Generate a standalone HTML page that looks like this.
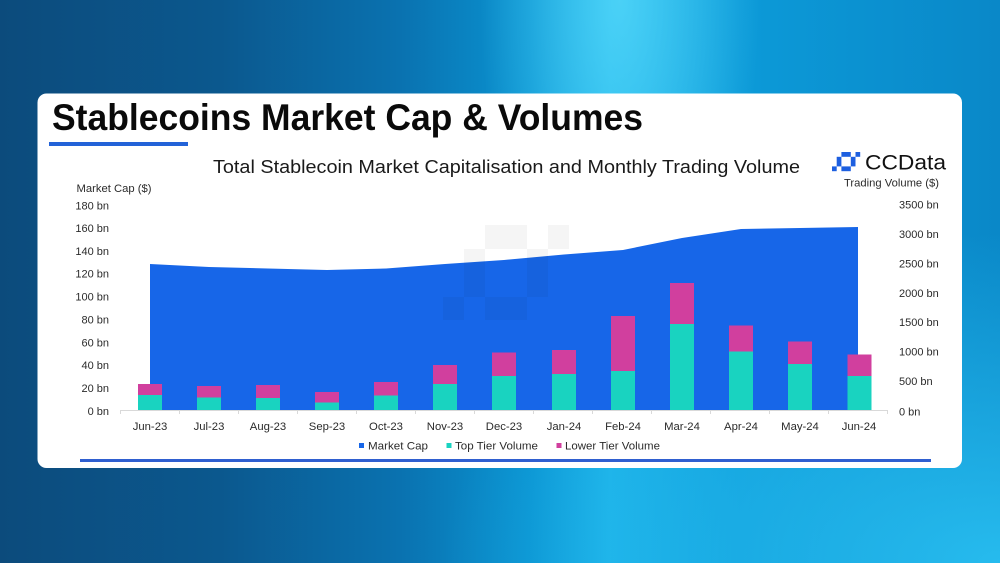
<!DOCTYPE html>
<html>
<head>
<meta charset="utf-8">
<style>
  html,body{margin:0;padding:0;width:1000px;height:563px;overflow:hidden;}
  #bg{position:absolute;left:0;top:0;width:1000px;height:563px;
    background:
      radial-gradient(ellipse 140px 340px at 620px 0px, rgba(90,220,252,0.75), rgba(90,220,252,0) 100%),
      radial-gradient(ellipse 560px 330px at 1000px 563px, rgba(40,190,240,0.95), rgba(40,190,240,0) 100%),
      linear-gradient(90deg, #0c4b7c 0%, #0b588e 22%, #0a72b0 40%, #0a94d2 53%, #1cb2e8 61%, #0c9ad8 74%, #0a88c8 100%);
  }
  svg{position:absolute;left:0;top:0;}
  text{font-family:"Liberation Sans",Arial,sans-serif;}
</style>
</head>
<body>
<div id="bg"></div>
<svg width="1000" height="563" viewBox="0 0 1000 563" xmlns="http://www.w3.org/2000/svg">
  <!-- card -->
  <rect x="37.5" y="93.5" width="924.5" height="374.5" rx="9" ry="9" fill="#ffffff"/>

  <!-- title -->
  <text x="52" y="130" font-size="37" font-weight="bold" fill="#0a0a0a" textLength="591" lengthAdjust="spacingAndGlyphs">Stablecoins Market Cap &amp; Volumes</text>
  <rect x="49" y="142" width="139" height="4" fill="#2363d8"/>

  <!-- subtitle -->
  <text x="213" y="173" font-size="18" fill="#1a1a1a" textLength="587" lengthAdjust="spacingAndGlyphs">Total Stablecoin Market Capitalisation and Monthly Trading Volume</text>

  <!-- CCData logo -->
  <g fill="#1d5fe0">
    <rect x="841.4" y="152" width="9.4" height="4.8"/>
    <rect x="855.5" y="152" width="4.7" height="4.8"/>
    <rect x="836.7" y="156.8" width="4.7" height="9.6"/>
    <rect x="850.8" y="156.8" width="4.7" height="9.6"/>
    <rect x="832" y="166.4" width="4.7" height="4.8"/>
    <rect x="841.4" y="166.4" width="9.4" height="4.8"/>
  </g>
  <text x="865" y="169.5" font-size="21" fill="#111" textLength="81" lengthAdjust="spacingAndGlyphs">CCData</text>

  <!-- axis titles -->
  <text x="76.5" y="192" font-size="11" fill="#2b2b2b" textLength="75" lengthAdjust="spacingAndGlyphs">Market Cap ($)</text>
  <text x="844" y="186.5" font-size="11" fill="#2b2b2b" textLength="95" lengthAdjust="spacingAndGlyphs">Trading Volume ($)</text>

  <!-- left axis labels -->
  <g font-size="11" fill="#2b2b2b" text-anchor="end">
    <text x="109" y="209.5">180 bn</text>
    <text x="109" y="232">160 bn</text>
    <text x="109" y="255">140 bn</text>
    <text x="109" y="277.5">120 bn</text>
    <text x="109" y="300.5">100 bn</text>
    <text x="109" y="323.5">80 bn</text>
    <text x="109" y="346.5">60 bn</text>
    <text x="109" y="369">40 bn</text>
    <text x="109" y="392">20 bn</text>
    <text x="109" y="415">0 bn</text>
  </g>

  <!-- right axis labels -->
  <g font-size="11" fill="#2b2b2b">
    <text x="899" y="208.5">3500 bn</text>
    <text x="899" y="238">3000 bn</text>
    <text x="899" y="267.5">2500 bn</text>
    <text x="899" y="297">2000 bn</text>
    <text x="899" y="326">1500 bn</text>
    <text x="899" y="355.5">1000 bn</text>
    <text x="899" y="385">500 bn</text>
    <text x="899" y="415.5">0 bn</text>
  </g>

  <!-- market cap area -->
  <path d="M150,410.5 L150,264 L209,267 L268,268.5 L327,270 L386,268.5 L445,264 L504,260 L564,254.5 L623,250 L682,238 L741,229 L800,228 L858,227 L858,410.5 Z" fill="#1766e8"/>

  <!-- watermark -->
  <g fill="#000" fill-opacity="0.04">
    <rect x="485" y="225" width="42" height="24"/>
    <rect x="548" y="225" width="21" height="24"/>
    <rect x="464" y="249" width="21" height="48"/>
    <rect x="527" y="249" width="21" height="48"/>
    <rect x="443" y="297" width="21" height="23"/>
    <rect x="485" y="297" width="42" height="23"/>
  </g>

  <!-- bars: teal (top tier) + magenta (lower tier) -->
  <g>
    <rect x="138" y="395" width="24" height="15.5" fill="#19d3c0"/>
    <rect x="138" y="384" width="24" height="11" fill="#d13f9e"/>
    <rect x="197" y="397.5" width="24" height="13" fill="#19d3c0"/>
    <rect x="197" y="386" width="24" height="11.5" fill="#d13f9e"/>
    <rect x="256" y="398" width="24" height="12.5" fill="#19d3c0"/>
    <rect x="256" y="385" width="24" height="13" fill="#d13f9e"/>
    <rect x="315" y="402.5" width="24" height="8" fill="#19d3c0"/>
    <rect x="315" y="392" width="24" height="10.5" fill="#d13f9e"/>
    <rect x="374" y="395.5" width="24" height="15" fill="#19d3c0"/>
    <rect x="374" y="382" width="24" height="13.5" fill="#d13f9e"/>
    <rect x="433" y="384" width="24" height="26.5" fill="#19d3c0"/>
    <rect x="433" y="365" width="24" height="19" fill="#d13f9e"/>
    <rect x="492" y="376" width="24" height="34.5" fill="#19d3c0"/>
    <rect x="492" y="352.5" width="24" height="23.5" fill="#d13f9e"/>
    <rect x="552" y="374" width="24" height="36.5" fill="#19d3c0"/>
    <rect x="552" y="350" width="24" height="24" fill="#d13f9e"/>
    <rect x="611" y="371" width="24" height="39.5" fill="#19d3c0"/>
    <rect x="611" y="316" width="24" height="55" fill="#d13f9e"/>
    <rect x="670" y="324" width="24" height="86.5" fill="#19d3c0"/>
    <rect x="670" y="283" width="24" height="41" fill="#d13f9e"/>
    <rect x="729" y="351.5" width="24" height="59" fill="#19d3c0"/>
    <rect x="729" y="325.5" width="24" height="26" fill="#d13f9e"/>
    <rect x="788" y="364" width="24" height="46.5" fill="#19d3c0"/>
    <rect x="788" y="341.5" width="24" height="22.5" fill="#d13f9e"/>
    <rect x="847.5" y="376" width="24" height="34.5" fill="#19d3c0"/>
    <rect x="847.5" y="354.5" width="24" height="21.5" fill="#d13f9e"/>
  </g>

  <!-- x axis line and ticks -->
  <g stroke="#d9d9d9" stroke-width="1">
    <line x1="120" y1="410.5" x2="888" y2="410.5"/>
    <line x1="120.5" y1="410.5" x2="120.5" y2="414"/>
    <line x1="179.5" y1="410.5" x2="179.5" y2="414"/>
    <line x1="238.5" y1="410.5" x2="238.5" y2="414"/>
    <line x1="297.5" y1="410.5" x2="297.5" y2="414"/>
    <line x1="356.5" y1="410.5" x2="356.5" y2="414"/>
    <line x1="415.5" y1="410.5" x2="415.5" y2="414"/>
    <line x1="474.5" y1="410.5" x2="474.5" y2="414"/>
    <line x1="533.5" y1="410.5" x2="533.5" y2="414"/>
    <line x1="592.5" y1="410.5" x2="592.5" y2="414"/>
    <line x1="651.5" y1="410.5" x2="651.5" y2="414"/>
    <line x1="710.5" y1="410.5" x2="710.5" y2="414"/>
    <line x1="769.5" y1="410.5" x2="769.5" y2="414"/>
    <line x1="828.5" y1="410.5" x2="828.5" y2="414"/>
    <line x1="887.5" y1="410.5" x2="887.5" y2="414"/>
  </g>

  <!-- x labels -->
  <g font-size="11.3" fill="#2b2b2b" text-anchor="middle">
    <text x="150" y="430">Jun-23</text>
    <text x="209" y="430">Jul-23</text>
    <text x="268" y="430">Aug-23</text>
    <text x="327" y="430">Sep-23</text>
    <text x="386" y="430">Oct-23</text>
    <text x="445" y="430">Nov-23</text>
    <text x="504" y="430">Dec-23</text>
    <text x="564" y="430">Jan-24</text>
    <text x="623" y="430">Feb-24</text>
    <text x="682" y="430">Mar-24</text>
    <text x="741" y="430">Apr-24</text>
    <text x="800" y="430">May-24</text>
    <text x="859" y="430">Jun-24</text>
  </g>

  <!-- legend -->
  <rect x="359" y="443" width="5" height="5" fill="#1766e8"/>
  <text x="368" y="449.3" font-size="11" fill="#2b2b2b" textLength="60" lengthAdjust="spacingAndGlyphs">Market Cap</text>
  <rect x="446.5" y="443" width="5" height="5" fill="#19d3c0"/>
  <text x="455" y="449.3" font-size="11" fill="#2b2b2b" textLength="83" lengthAdjust="spacingAndGlyphs">Top Tier Volume</text>
  <rect x="556.5" y="443" width="5" height="5" fill="#d13f9e"/>
  <text x="565" y="449.3" font-size="11" fill="#2b2b2b" textLength="95" lengthAdjust="spacingAndGlyphs">Lower Tier Volume</text>

  <!-- bottom line -->
  <rect x="80" y="459" width="851" height="3" fill="#2f5fd0"/>
</svg>
</body>
</html>
